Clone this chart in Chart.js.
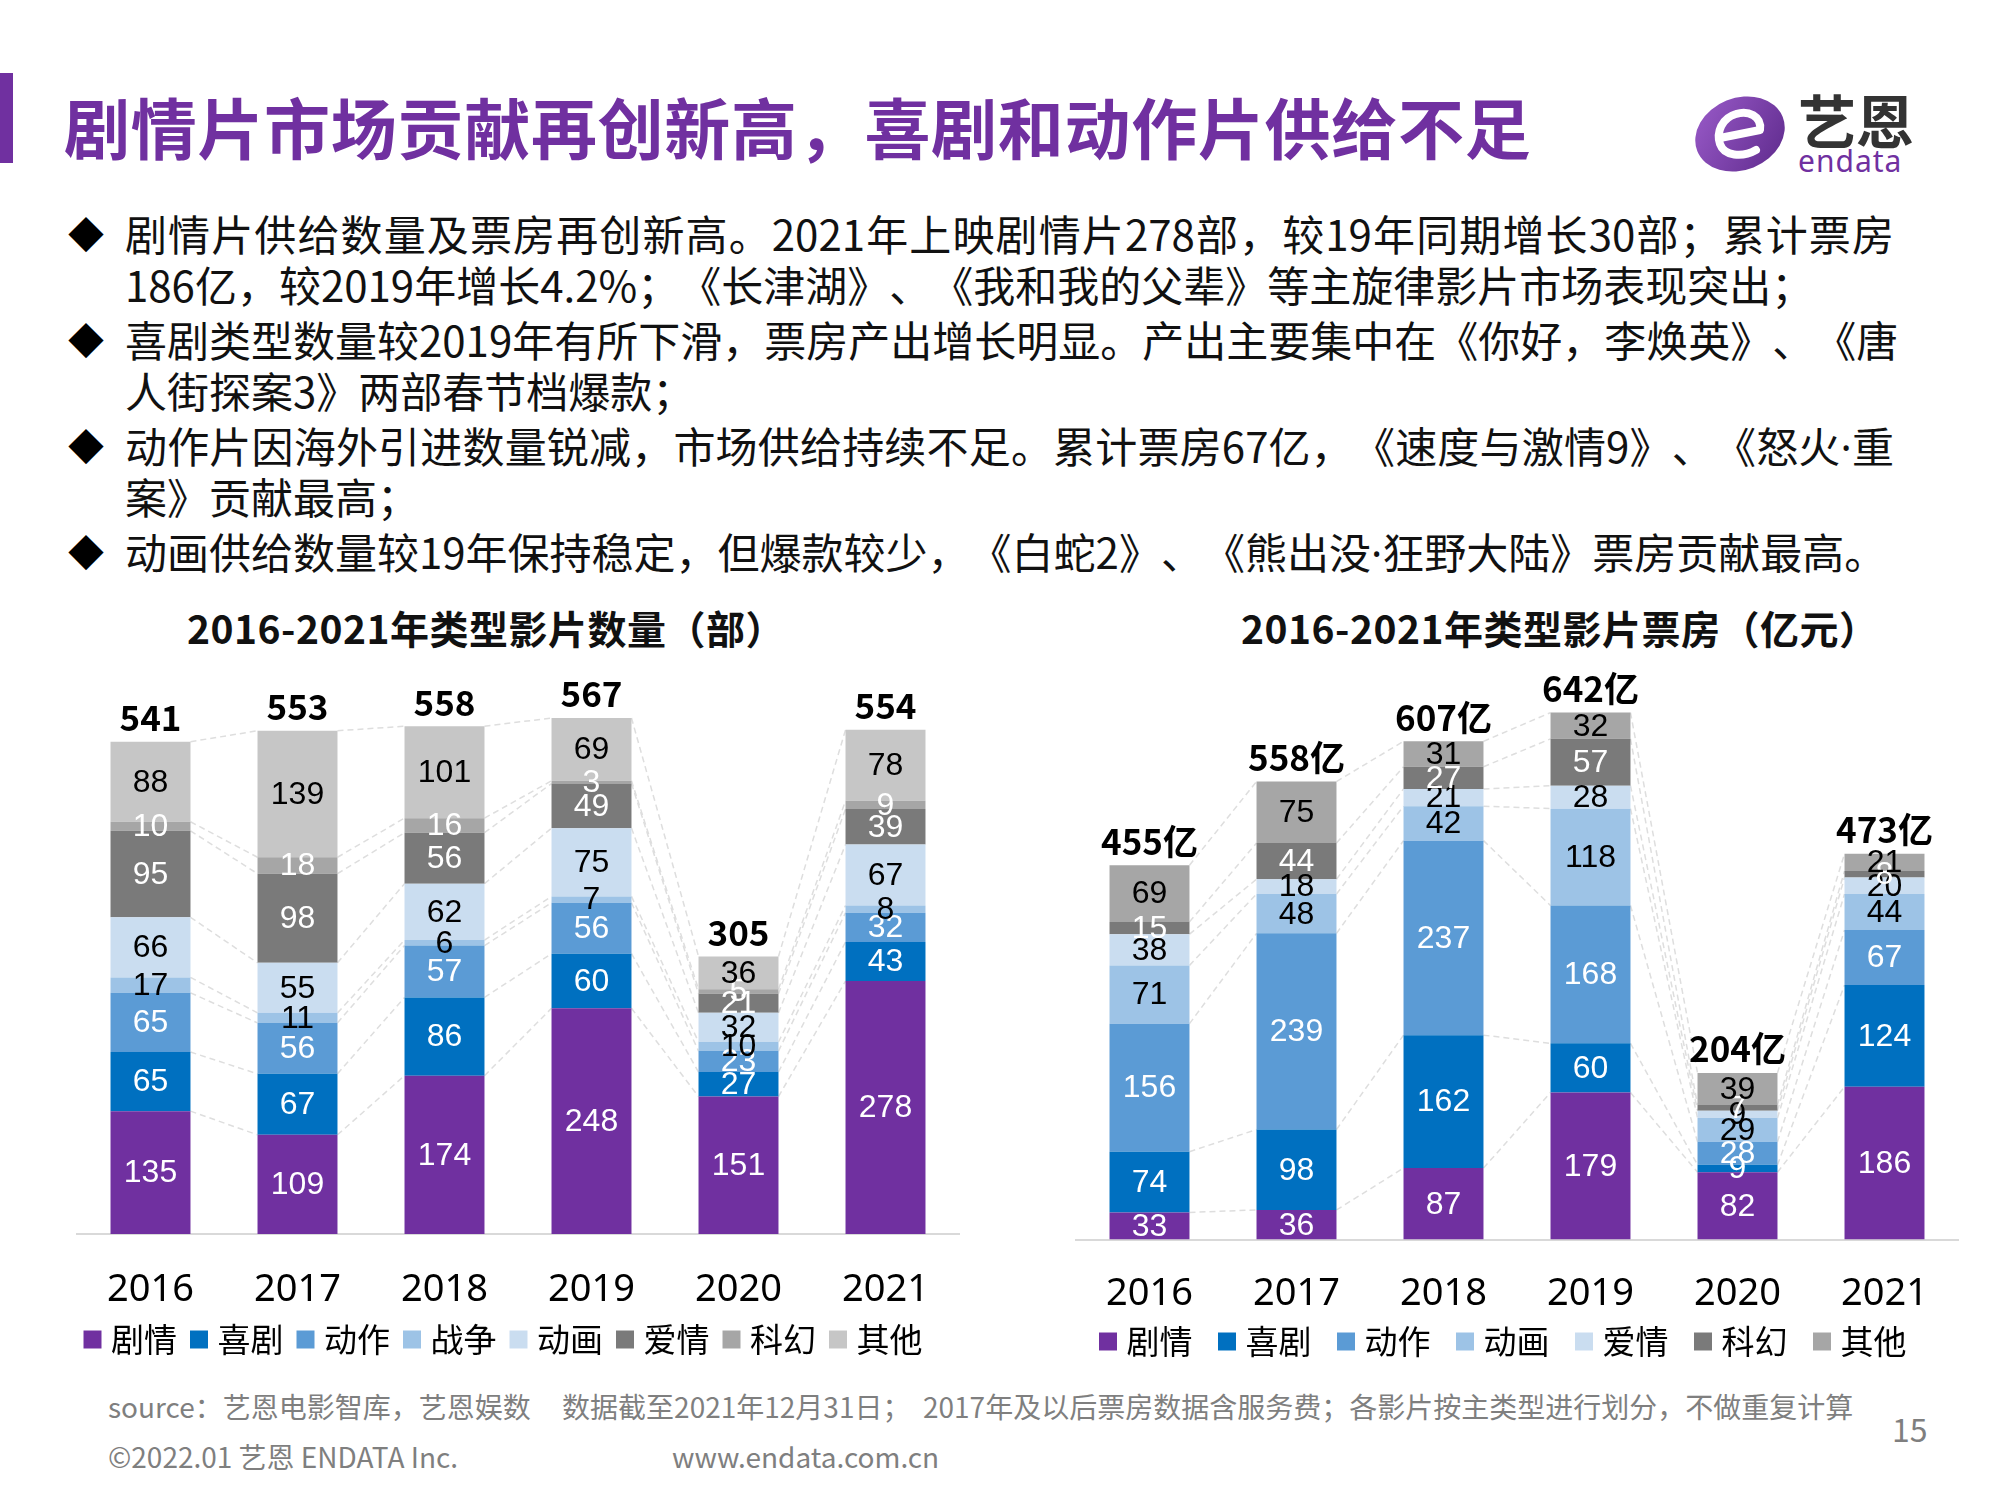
<!DOCTYPE html>
<html>
<head>
<meta charset="utf-8">
<script src="https://cdn.jsdelivr.net/npm/chart.js@4.4.0/dist/chart.umd.min.js"></script>
<style>
  html, body { margin: 0; padding: 0; background: #fff; }
  body { width: 2000px; height: 1500px; position: relative; overflow: hidden; font-family: "Noto Sans CJK SC", "Noto Sans", sans-serif; text-spacing-trim: space-all; }
  .abs { position: absolute; white-space: nowrap; }
  .title { left: 64px; top: 82px; font-size: 66px; font-weight: 700; color: #7030A0; line-height: 86px; letter-spacing: 0.7px; }
  .tbar { left: 0; top: 73px; width: 13px; height: 90px; background: #7030A0; }
  .line { left: 125px; height: 50px; line-height: 50px; font-size: 42px; color: #111; }
  .just { width: 1769px; text-align: justify; text-align-last: justify; }
  .dot { font-family: "Noto Sans", sans-serif; }
  .dia { left: 68px; height: 50px; line-height: 50px; font-size: 36px; color: #000; }
  .ctitle { top: 604px; font-size: 39px; font-weight: 700; color: #111; line-height: 46px; letter-spacing: 0.5px; }
  .foot { font-size: 28px; color: #7f7f7f; line-height: 32px; }
  canvas { position: absolute; }
</style>
</head>
<body>
<div class="abs tbar"></div>
<div class="abs title">剧情片市场贡献再创新高，喜剧和动作片供给不足</div>

<svg class="abs" style="left:1690px;top:86px" width="240" height="92" viewBox="0 0 240 92">
  <defs>
    <linearGradient id="lg" x1="0" y1="0" x2="1" y2="1">
      <stop offset="0" stop-color="#9A5BC9"/>
      <stop offset="1" stop-color="#5E2A8C"/>
    </linearGradient>
  </defs>
  <ellipse cx="50" cy="48" rx="46" ry="36" transform="rotate(-22 50 48)" fill="url(#lg)"/>
  <path d="M30 52 L70 44 C72 30 58 24 46 28 C32 32 26 46 30 58 C34 70 52 72 66 64" fill="none" stroke="#fff" stroke-width="8" stroke-linecap="round" stroke-linejoin="round"/>
  <text x="108" y="58" font-size="58" font-weight="700" fill="#333" font-family="Noto Sans CJK SC">艺恩</text>
  <text x="108" y="86" font-size="30" fill="#7030A0" font-family="Noto Sans" letter-spacing="1">endata</text>
</svg>

<div class="abs dia" style="top:208px">◆</div>
<div class="abs line just" style="top:208px">剧情片供给数量及票房再创新高。2021年上映剧情片278部，较19年同期增长30部；累计票房</div>
<div class="abs line" style="top:259px">186亿，较2019年增长4.2%；《长津湖》、《我和我的父辈》等主旋律影片市场表现突出；</div>
<div class="abs dia" style="top:314px">◆</div>
<div class="abs line just" style="top:314px">喜剧类型数量较2019年有所下滑，票房产出增长明显。产出主要集中在《你好，李焕英》、《唐</div>
<div class="abs line" style="top:365px">人街探案3》两部春节档爆款；</div>
<div class="abs dia" style="top:420px">◆</div>
<div class="abs line just" style="top:420px">动作片因海外引进数量锐减，市场供给持续不足。累计票房67亿，《速度与激情9》、《怒火<span class="dot">·</span>重</div>
<div class="abs line" style="top:471px">案》贡献最高；</div>
<div class="abs dia" style="top:526px">◆</div>
<div class="abs line" style="top:526px">动画供给数量较19年保持稳定，但爆款较少，《白蛇2》、《熊出没<span class="dot">·</span>狂野大陆》票房贡献最高。</div>

<div class="abs ctitle" style="left:187px">2016-2021年类型影片数量（部）</div>
<div class="abs ctitle" style="left:1241px">2016-2021年类型影片票房（亿元）</div>

<canvas id="countChart" width="1000" height="720" style="left:0px;top:646px"></canvas>
<canvas id="boxChart" width="1000" height="732" style="left:1000px;top:636px"></canvas>

<div class="abs foot" style="left:108px;top:1390px">source：艺恩电影智库，艺恩娱数&nbsp;&nbsp;&nbsp;&nbsp;&nbsp;数据截至2021年12月31日；&nbsp;&nbsp;2017年及以后票房数据含服务费；各影片按主类型进行划分，不做重复计算</div>
<div class="abs foot" style="left:108px;top:1440px">©2022.01 艺恩 ENDATA Inc.</div>
<div class="abs foot" style="left:672px;top:1440px">www.endata.com.cn</div>
<div class="abs foot" style="left:1892px;top:1410px;font-size:32px;line-height:36px">15</div>

<script>
const years = ['2016', '2017', '2018', '2019', '2020', '2021'];

// 类型影片数量（部）
const countGenres = ['剧情', '喜剧', '动作', '战争', '动画', '爱情', '科幻', '其他'];
const countDrama = [135, 109, 174, 248, 151, 278];
const countComedy = [65, 67, 86, 60, 27, 43];
const countAction = [65, 56, 57, 56, 23, 32];
const countWar = [17, 11, 6, 7, 10, 8];
const countAnimation = [66, 55, 62, 75, 32, 67];
const countRomance = [95, 98, 56, 49, 21, 39];
const countScifi = [10, 18, 16, 3, 5, 9];
const countOther = [88, 139, 101, 69, 36, 78];
const countTotals = ['541', '553', '558', '567', '305', '554'];

// 类型影片票房（亿元）
const boxGenres = ['剧情', '喜剧', '动作', '动画', '爱情', '科幻', '其他'];
const boxDrama = [33, 36, 87, 179, 82, 186];
const boxComedy = [74, 98, 162, 60, 9, 124];
const boxAction = [156, 239, 237, 168, 28, 67];
const boxAnimation = [71, 48, 42, 118, 29, 44];
const boxRomance = [38, 18, 21, 28, 9, 20];
const boxScifi = [15, 44, 27, 57, 7, 8];
const boxOther = [69, 75, 31, 32, 39, 21];
const boxTotals = ['455亿', '558亿', '607亿', '642亿', '204亿', '473亿'];

const PURPLE = '#7030A0', BLUE = '#0070C0', MID = '#5B9BD5', LIGHT = '#9DC3E6', PALE = '#CADDF0';
const DGREY = '#7A7A7A', MGREY = '#A6A6A6', LGREY = '#C6C6C6';

// dashed series lines between neighbouring bars
const seriesLines = {
  id: 'seriesLines',
  beforeDatasetsDraw(chart) {
    const ctx = chart.ctx;
    ctx.save();
    ctx.strokeStyle = '#DEDEDE';
    ctx.lineWidth = 1.5;
    ctx.setLineDash([6, 4]);
    chart.data.datasets.forEach((ds, di) => {
      const bars = chart.getDatasetMeta(di).data;
      for (let i = 0; i < bars.length - 1; i++) {
        const a = bars[i], b = bars[i + 1];
        ctx.beginPath();
        ctx.moveTo(a.x + a.width / 2, a.y);
        ctx.lineTo(b.x - b.width / 2, b.y);
        ctx.stroke();
      }
    });
    ctx.restore();
  }
};

// values inside the segments and totals on top
const segLabels = {
  id: 'segLabels',
  afterDatasetsDraw(chart, args, opts) {
    const ctx = chart.ctx;
    ctx.save();
    ctx.textAlign = 'center';
    ctx.textBaseline = 'middle';
    ctx.font = '32px "Liberation Sans", Arial, sans-serif';
    chart.data.datasets.forEach((ds, di) => {
      chart.getDatasetMeta(di).data.forEach((bar, i) => {
        ctx.fillStyle = ds.labelColor;
        ctx.fillText(String(ds.data[i]), bar.x, (bar.y + bar.base) / 2 + 1);
      });
    });
    const top = chart.getDatasetMeta(chart.data.datasets.length - 1).data;
    ctx.font = 'bold 35px "Noto Sans CJK SC", sans-serif';
    ctx.fillStyle = '#000';
    top.forEach((bar, i) => ctx.fillText(opts.totals[i], bar.x, bar.y - 24));
    ctx.restore();
  }
};

function makeChart(id, series, totals, yMax, pad, yW, axisH, tickPad, legendPad, tail) {
  new Chart(document.getElementById(id), {
    type: 'bar',
    data: {
      labels: years,
      datasets: series.map(s => ({
        label: s[0],
        data: s[1],
        backgroundColor: s[2],
        labelColor: s[3],
        barPercentage: 0.544,
        categoryPercentage: 1
      }))
    },
    options: {
      responsive: false,
      animation: false,
      layout: { padding: pad },
      scales: {
        x: {
          stacked: true,
          grid: { display: false, drawTicks: false },
          border: { display: true, color: '#D9D9D9', width: 2 },
          ticks: { color: '#000', padding: tickPad, font: { size: 38, family: '"Noto Sans", sans-serif' } },
          afterFit: s => { s.height = axisH; }
        },
        y: {
          stacked: true,
          min: 0,
          max: yMax,
          grid: { display: false, drawTicks: false },
          border: { display: false },
          ticks: { display: false },
          afterFit: s => { s.width = yW; }
        }
      },
      plugins: {
        legend: {
          position: 'bottom',
          labels: {
            usePointStyle: true,
            pointStyle: 'rect',
            boxWidth: 4,
            boxHeight: 18,
            padding: legendPad,
            color: '#000',
            font: { size: 33, family: '"Noto Sans CJK SC", sans-serif' },
            generateLabels: chart => {
              const items = Chart.defaults.plugins.legend.labels.generateLabels(chart);
              items.forEach(it => { it.text += tail; });
              return items;
            }
          }
        },
        tooltip: { enabled: false },
        segLabels: { totals: totals }
      }
    },
    plugins: [seriesLines, segLabels]
  });
}

makeChart('countChart', [
  [countGenres[0], countDrama, PURPLE, '#fff'],
  [countGenres[1], countComedy, BLUE, '#fff'],
  [countGenres[2], countAction, MID, '#fff'],
  [countGenres[3], countWar, LIGHT, '#000'],
  [countGenres[4], countAnimation, PALE, '#000'],
  [countGenres[5], countRomance, DGREY, '#fff'],
  [countGenres[6], countScifi, MGREY, '#fff'],
  [countGenres[7], countOther, LGREY, '#000']
], countTotals, 600, { left: 54, right: 41, top: 42, bottom: 0 }, 23, 69, 33, 20, '');

makeChart('boxChart', [
  [boxGenres[0], boxDrama, PURPLE, '#fff'],
  [boxGenres[1], boxComedy, BLUE, '#fff'],
  [boxGenres[2], boxAction, MID, '#fff'],
  [boxGenres[3], boxAnimation, LIGHT, '#000'],
  [boxGenres[4], boxRomance, PALE, '#000'],
  [boxGenres[5], boxScifi, DGREY, '#fff'],
  [boxGenres[6], boxOther, MGREY, '#000']
], boxTotals, 700, { left: 71, right: 42, top: 29, bottom: 0 }, 5, 69.5, 32, 16, '\u2002');
</script>
</body>
</html>
